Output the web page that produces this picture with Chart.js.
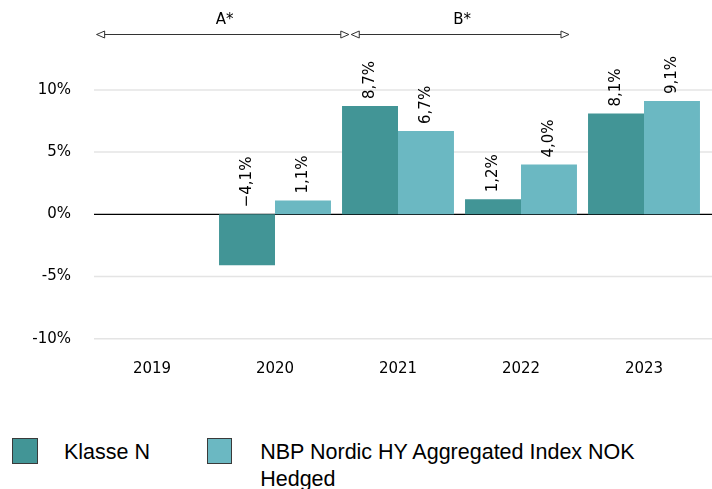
<!DOCTYPE html>
<html>
<head>
<meta charset="utf-8">
<script src="https://cdn.jsdelivr.net/npm/chart.js@4"></script>
<style>
    html, body { margin: 0; padding: 0; background: #fff; }
    #wrap { position: relative; width: 712px; height: 489px; overflow: hidden; }
    #box { position: absolute; left: 0; top: 0; width: 712px; height: 420px; }
    .legend { position: absolute; top: 439px; left: 12px; display: flex; font-family: "Liberation Sans", Arial, sans-serif; font-size: 21.5px; line-height: 27px; color: #000; }
    .legend .item { display: flex; align-items: flex-start; }
    .legend .swatch { width: 26px; height: 26px; border: 1px solid #3a3a3a; box-sizing: border-box; margin-top: -1px; }
    .legend .text { margin-left: 28px; }
</style>
</head>
<body>
<div id="wrap">
    <div id="box"><canvas id="returnsChart"></canvas></div>
    <div class="legend" id="legend"></div>
</div>
<script>
const years = ['2019', '2020', '2021', '2022', '2023'];
const klasseN = [null, -4.1, 8.7, 1.2, 8.1];
const indexHedged = [null, 1.1, 6.7, 4.0, 9.1];
const seriesNames = ['Klasse N', 'NBP Nordic HY Aggregated Index NOK Hedged'];
const seriesColors = ['#429596', '#6bb8c2'];
const yTicks = [-10, -5, 0, 5, 10];
const periodLabels = ['A*', 'B*'];

function formatPct(v) {
    const s = Math.abs(v).toFixed(1).replace('.', ',') + '%';
    return v < 0 ? '\u2212' + s : s;
}

// horizontal grid lines run a bit wider than the category range
const wideGrid = {
    id: 'wideGrid',
    beforeDatasetsDraw(chart) {
        const ctx = chart.ctx;
        const y = chart.scales.y;
        ctx.save();
        yTicks.forEach(v => {
            const py = y.getPixelForValue(v);
            ctx.beginPath();
            if (v === 0) {
                ctx.strokeStyle = '#000';
                ctx.lineWidth = 1.2;
            } else {
                ctx.strokeStyle = '#e4e4e4';
                ctx.lineWidth = 1.5;
            }
            ctx.moveTo(94, py);
            ctx.lineTo(chart.width, py);
            ctx.stroke();
        });
        ctx.restore();
    }
};

// rotated value labels above each bar
const barLabels = {
    id: 'barLabels',
    afterDatasetsDraw(chart) {
        const ctx = chart.ctx;
        const zeroY = chart.scales.y.getPixelForValue(0);
        ctx.save();
        ctx.fillStyle = '#000';
        ctx.font = '15px "DejaVu Sans"';
        ctx.textAlign = 'left';
        ctx.textBaseline = 'middle';
        chart.data.datasets.forEach((ds, i) => {
            chart.getDatasetMeta(i).data.forEach((bar, j) => {
                const v = ds.data[j];
                if (v === null) return;
                const y = (v >= 0 ? bar.y : zeroY) - 7;
                ctx.save();
                ctx.translate(bar.x, y);
                ctx.rotate(-Math.PI / 2);
                ctx.fillText(formatPct(v), 0, 0);
                ctx.restore();
            });
        });
        ctx.restore();
    }
};

// period arrows (A*, B*) across the top
const periodArrows = {
    id: 'periodArrows',
    afterDraw(chart) {
        const ctx = chart.ctx;
        const x = chart.scales.x;
        const spans = [[-0.45, 1.6], [1.62, 3.39]];
        const y = 34;
        ctx.save();
        ctx.strokeStyle = '#333';
        ctx.lineWidth = 1;
        spans.forEach((s, i) => {
            const x1 = x.getPixelForValue(s[0]);
            const x2 = x.getPixelForValue(s[1]);
            ctx.beginPath();
            ctx.moveTo(x1, y + 0.5);
            ctx.lineTo(x2, y + 0.5);
            ctx.stroke();
            [[x1, 1], [x2, -1]].forEach(([px, dir]) => {
                ctx.beginPath();
                ctx.moveTo(px, y + 0.5);
                ctx.lineTo(px + dir * 8, y - 3);
                ctx.lineTo(px + dir * 8, y + 4);
                ctx.closePath();
                ctx.fillStyle = '#fff';
                ctx.fill();
                ctx.stroke();
            });
            ctx.fillStyle = '#000';
            ctx.font = '15px "DejaVu Sans"';
            ctx.textAlign = 'center';
            ctx.textBaseline = 'middle';
            ctx.fillText(periodLabels[i], (x1 + x2) / 2 + 2, 20);
        });
        ctx.restore();
    }
};

const legend = document.getElementById('legend');
seriesNames.forEach((name, i) => {
    const item = document.createElement('div');
    item.className = 'item';
    item.style.width = i === 0 ? '195px' : '440px';
    const gap = i === 0 ? 26 : 28;
    item.innerHTML = `<div class="swatch" style="background:${seriesColors[i]}"></div><div class="text" style="margin-left:${gap}px;width:${i === 0 ? 140 : 400}px">${name}</div>`;
    legend.appendChild(item);
});

const ctx = document.getElementById('returnsChart').getContext('2d');
new Chart(ctx, {
    type: 'bar',
    data: {
        labels: years,
        datasets: [
            { label: seriesNames[0], data: klasseN, backgroundColor: seriesColors[0] },
            { label: seriesNames[1], data: indexHedged, backgroundColor: seriesColors[1] }
        ]
    },
    options: {
        responsive: true,
        maintainAspectRatio: false,
        animation: false,
        categoryPercentage: 0.91,
        barPercentage: 1,
        layout: { padding: { top: 65, right: 6.5, left: 0, bottom: 0 } },
        plugins: {
            legend: { display: false },
            tooltip: { enabled: false }
        },
        scales: {
            x: {
                grid: { display: false, drawTicks: false },
                border: { display: false },
                ticks: { color: '#000', font: { family: 'DejaVu Sans', size: 15 }, padding: 21 },
                afterFit(scale) { scale.height = 81.3; }
            },
            y: {
                min: -10,
                max: 12,
                afterBuildTicks(scale) { scale.ticks = yTicks.map(v => ({ value: v })); },
                grid: { display: false, drawTicks: false },
                border: { display: false },
                ticks: {
                    color: '#000',
                    font: { family: 'DejaVu Sans', size: 15 },
                    padding: 19.5,
                    callback: v => v + '%'
                },
                afterFit(scale) { scale.width = 90.5; }
            }
        }
    },
    plugins: [wideGrid, barLabels, periodArrows]
});
</script>
</body>
</html>
